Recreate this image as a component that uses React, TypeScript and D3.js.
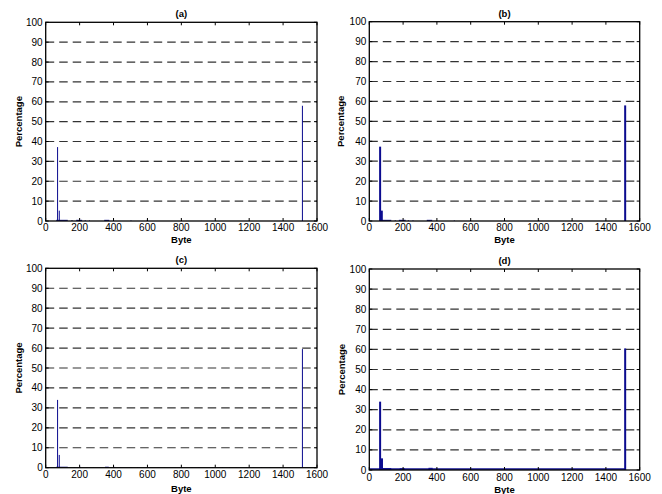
import React from "react";
import * as d3 from "d3";

const xTicks = [0, 200, 400, 600, 800, 1000, 1200, 1400, 1600];
const yTicks = [0, 10, 20, 30, 40, 50, 60, 70, 80, 90, 100];
const gridValues = [10, 20, 30, 40, 50, 60, 70, 80, 90];
const titles = ["(a)", "(b)", "(c)", "(d)"];
const xLabel = "Byte";
const yLabel = "Percentage";

// main bars: [byte, percentage]
const peaksA: [number, number][] = [[70, 37.2], [80, 5.2], [1514, 58]];
const peaksB: [number, number][] = [[64, 37.3], [74, 5.2], [1514, 58]];
const peaksC: [number, number][] = [[70, 34], [80, 6.4], [1514, 59.5]];
const peaksD: [number, number][] = [[64, 34], [75, 5.8], [1514, 60.5]];

// small bars spread near the baseline: [fromByte, toByte, percentage]
const smallA: [number, number, number][] = [
  [62, 130, 0.6], [150, 160, 0.3], [180, 215, 0.6], [230, 236, 0.4], [255, 260, 0.3],
  [345, 375, 0.6], [500, 504, 0.3], [596, 602, 0.6],
];
const smallB: [number, number, number][] = [
  [60, 130, 0.6], [150, 158, 0.3], [175, 215, 0.6], [228, 234, 0.4], [255, 262, 0.3],
  [340, 372, 0.6], [500, 506, 0.3], [596, 602, 0.5], [1000, 1004, 0.3],
];
const smallC: [number, number, number][] = [
  [62, 130, 0.5], [165, 175, 0.3], [200, 208, 0.4], [240, 245, 0.2], [280, 285, 0.2],
  [350, 372, 0.5], [400, 410, 0.4], [440, 446, 0.2], [500, 506, 0.3], [540, 546, 0.3],
  [590, 596, 0.2], [660, 664, 0.2], [700, 704, 0.2], [760, 764, 0.2], [800, 806, 0.3],
  [860, 864, 0.2], [900, 904, 0.2], [980, 986, 0.2], [1040, 1046, 0.2], [1080, 1084, 0.2],
  [1120, 1124, 0.2], [1180, 1186, 0.2], [1220, 1226, 0.2], [1270, 1274, 0.2],
  [1320, 1326, 0.2], [1380, 1384, 0.2], [1440, 1446, 0.2],
];
const smallD: [number, number, number][] = [
  [0, 1514, 0.9], [60, 130, 1.0], [180, 210, 0.9], [350, 375, 1.1],
];

type Layout = {
  left: number; right: number; top: number; bottom: number;
  titleY: number; tickY: number; xLabelY: number; yLabelX: number; barW: number;
};

const layouts: Layout[] = [
  { left: 45.7, right: 317, top: 22.3, bottom: 221, titleY: 16.5, tickY: 230.5, xLabelY: 243, yLabelX: 18.5, barW: 1 },
  { left: 369.3, right: 639.7, top: 21.7, bottom: 221, titleY: 16.5, tickY: 230.5, xLabelY: 243, yLabelX: 341, barW: 2 },
  { left: 45.7, right: 317, top: 268.3, bottom: 467.7, titleY: 262.5, tickY: 478, xLabelY: 491.5, yLabelX: 18.5, barW: 1 },
  { left: 369.3, right: 639.7, top: 269, bottom: 470, titleY: 264, tickY: 481, xLabelY: 493, yLabelX: 341, barW: 2 },
];

const peaks = [peaksA, peaksB, peaksC, peaksD];
const smalls = [smallA, smallB, smallC, smallD];

const BAR = "#0b0b8f";
const FONT = "'Liberation Sans', Arial, sans-serif";

function Panel({ i }: { i: number }) {
  const L = layouts[i];
  const x = d3.scaleLinear().domain([0, 1600]).range([L.left, L.right]);
  const y = d3.scaleLinear().domain([0, 100]).range([L.bottom, L.top]);
  const midX = (L.left + L.right) / 2;
  const midY = (L.top + L.bottom) / 2;
  return (
    <g>
      {gridValues.map((v) => (
        <line key={"g" + v} x1={L.left} x2={L.right} y1={y(v)} y2={y(v)}
          stroke="#333" strokeWidth={1.2} strokeDasharray="8.5,5" />
      ))}
      {smalls[i].map(([a, b, v], k) => {
        const x0 = x(a), x1 = Math.max(x(b), x0 + 1);
        return <rect key={"s" + k} x={x0} width={x1 - x0} y={y(v)} height={y(0) - y(v)} fill={BAR} opacity={0.9} />;
      })}
      {peaks[i].map(([b, v], k) => (
        <rect key={"p" + k} x={x(b) - L.barW / 2} width={L.barW} y={y(v)} height={y(0) - y(v)} fill={BAR} />
      ))}
      {xTicks.map((t) => (
        <g key={"xt" + t}>
          <line x1={x(t)} x2={x(t)} y1={L.bottom} y2={L.bottom - 3} stroke="#000" />
          <line x1={x(t)} x2={x(t)} y1={L.top} y2={L.top + 3} stroke="#000" />
          <text x={x(t)} y={L.tickY} textAnchor="middle" fontSize={10} fontFamily={FONT} fill="#000">{t}</text>
        </g>
      ))}
      {yTicks.map((t) => (
        <g key={"yt" + t}>
          <line x1={L.left} x2={L.left + 3} y1={y(t)} y2={y(t)} stroke="#000" />
          <line x1={L.right} x2={L.right - 3} y1={y(t)} y2={y(t)} stroke="#000" />
          <text x={L.left - 3} y={y(t) + 3.5} textAnchor="end" fontSize={10} fontFamily={FONT} fill="#000">{t}</text>
        </g>
      ))}
      <rect x={L.left} y={L.top} width={L.right - L.left} height={L.bottom - L.top}
        fill="none" stroke="#000" strokeWidth={1.3} />
      <text x={midX} y={L.titleY} textAnchor="middle" fontSize={9.5} fontWeight="bold" fontFamily={FONT}>{titles[i]}</text>
      <text x={midX} y={L.xLabelY} textAnchor="middle" fontSize={9.5} fontWeight="bold" fontFamily={FONT}>{xLabel}</text>
      <text x={L.yLabelX} y={midY} textAnchor="middle" dominantBaseline="central" fontSize={9.5} fontWeight="bold"
        fontFamily={FONT} transform={`rotate(-90 ${L.yLabelX} ${midY})`}>{yLabel}</text>
    </g>
  );
}

export default function App() {
  return (
    <svg width={662} height={494} style={{ position: "absolute", left: 0, top: 0, background: "#fff" }}>
      <rect width={662} height={494} fill="#fff" />
      {[0, 1, 2, 3].map((i) => <Panel key={i} i={i} />)}
    </svg>
  );
}
